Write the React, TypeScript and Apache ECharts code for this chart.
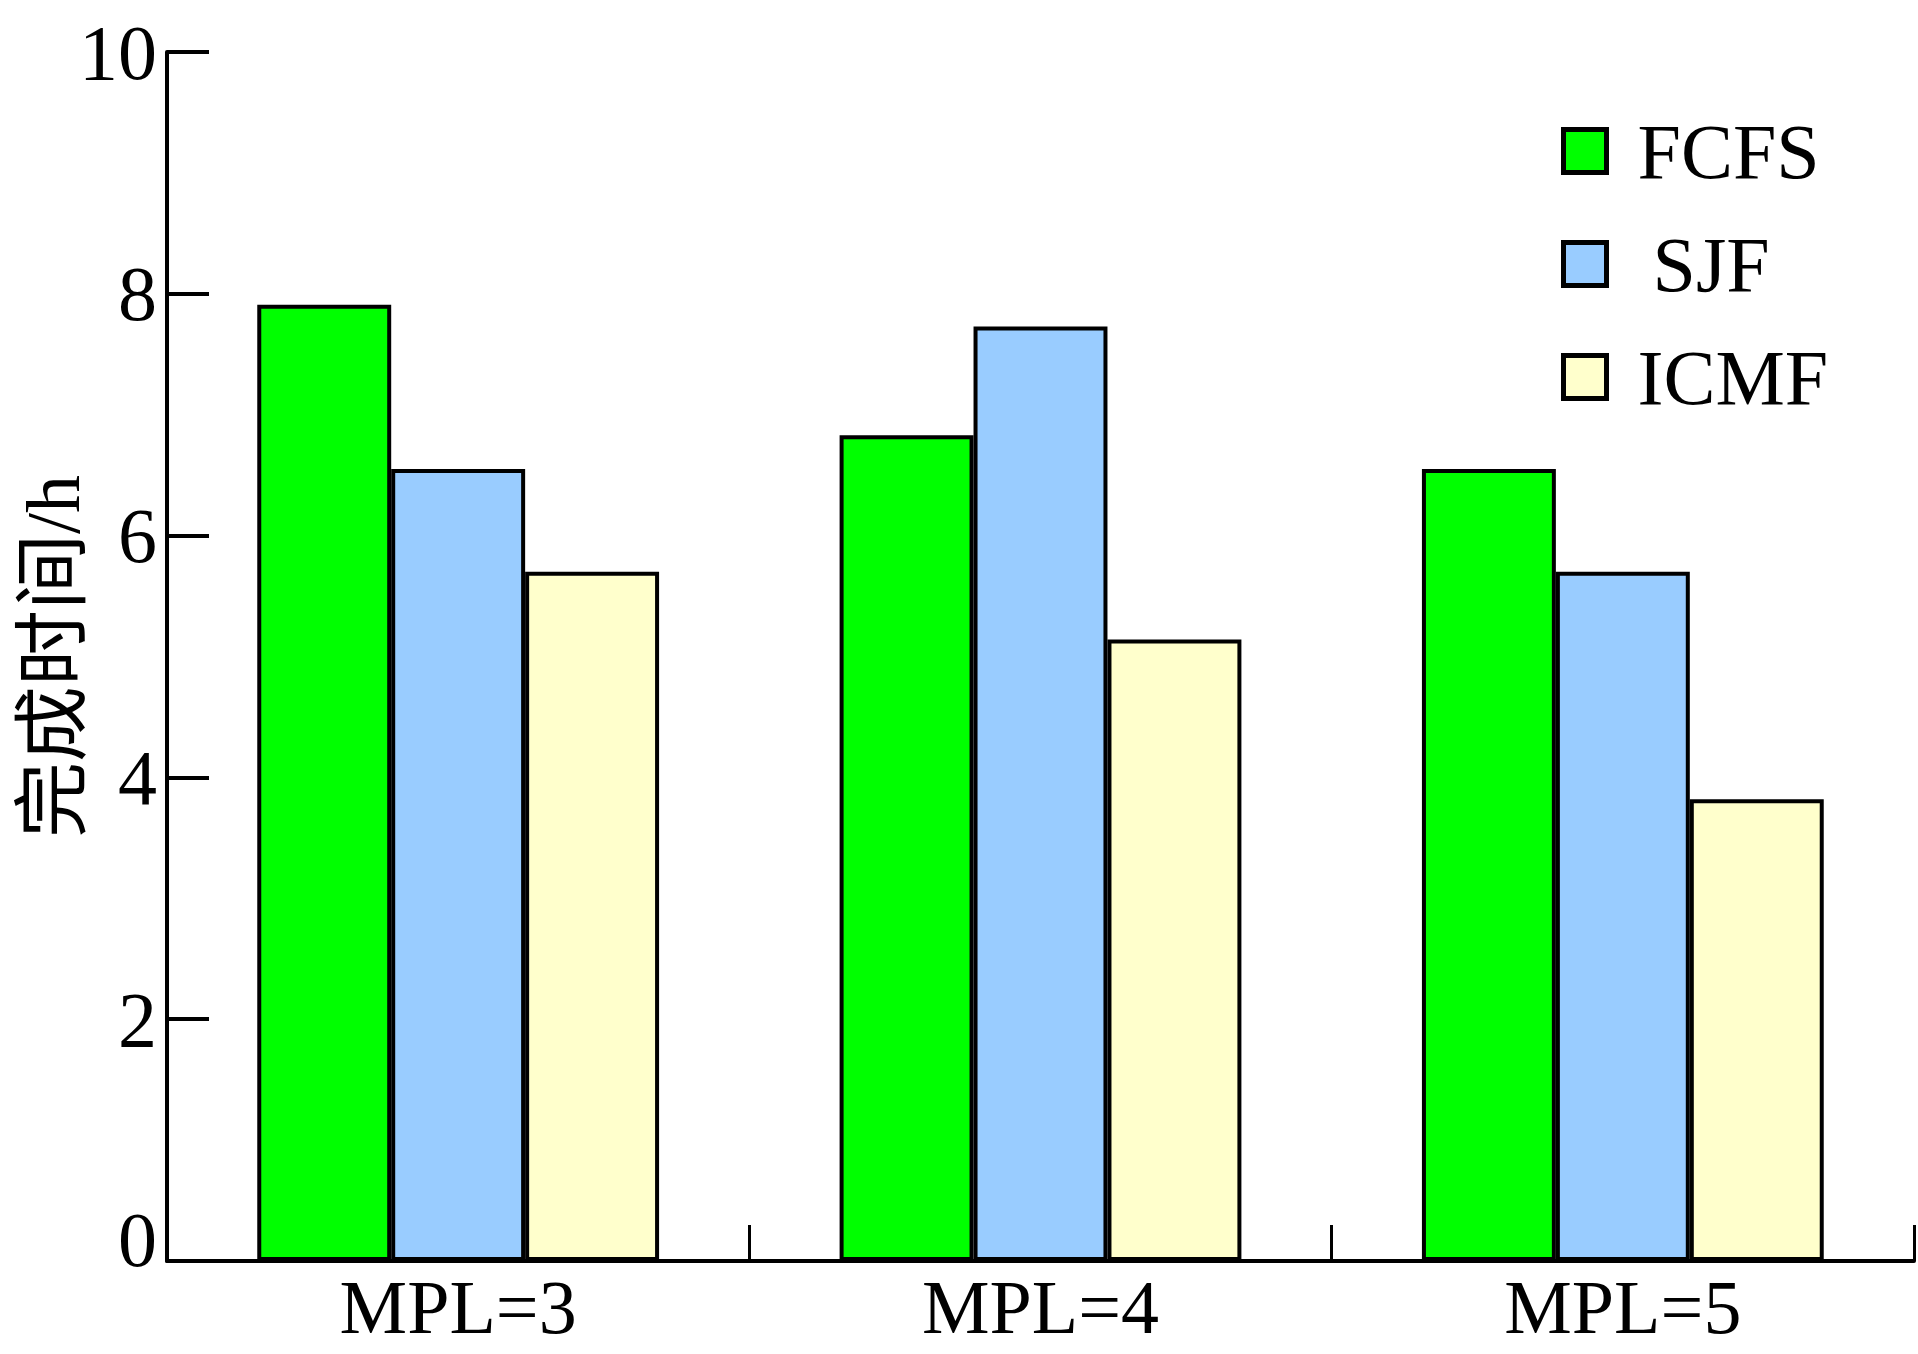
import React, { useEffect, useRef } from "react";
import * as echarts from "echarts";

const categories = ["MPL=3", "MPL=4", "MPL=5"];
const seriesNames = ["FCFS", "SJF", "ICMF"];
const fcfs = [7.91, 6.83, 6.55];
const sjf = [6.55, 7.73, 5.7];
const icmf = [5.7, 5.14, 3.82];
const colors = ["#00FF00", "#99CCFF", "#FFFFCC"];
const yTicks = [0, 2, 4, 6, 8, 10];

const FONT = "'Liberation Serif', 'Times New Roman', 'Noto Sans CJK SC', serif";

export default function App() {
  const ref = useRef<HTMLDivElement>(null);
  useEffect(() => {
    if (!ref.current) return;
    const chart = echarts.init(ref.current, null, { renderer: "svg" });
    const values = [fcfs, sjf, icmf];
    chart.setOption({
      animation: false,
      backgroundColor: "#ffffff",
      grid: { left: 167, right: 4, top: 52, bottom: 93, containLabel: false, outerBoundsMode: "none" },
      legend: {
        orient: "vertical",
        left: 1556,
        top: 107,
        itemWidth: 43,
        itemHeight: 43,
        itemGap: 35,
        icon: "rect",
        data: seriesNames,
        itemStyle: { borderColor: "#000", borderWidth: 5 },
        formatter: (name: string) => (name === "SJF" ? "{s|SJF}" : name),
        textStyle: {
          fontFamily: FONT,
          fontSize: 78,
          color: "#000",
          padding: [0, 0, 0, 26],
          rich: {
            s: { fontFamily: FONT, fontSize: 78, color: "#000", padding: [0, 0, 0, 15] },
          },
        },
      },
      xAxis: {
        type: "category",
        data: categories,
        boundaryGap: true,
        axisLine: { show: true, lineStyle: { color: "#000", width: 4 } },
        axisTick: { show: true, inside: true, length: 36, interval: 0, lineStyle: { color: "#000", width: 3 } },
        axisLabel: { fontFamily: FONT, fontSize: 76, color: "#000", margin: 8 },
        splitLine: { show: false },
      },
      yAxis: {
        type: "value",
        min: yTicks[0],
        max: yTicks[yTicks.length - 1],
        interval: 2,
        name: "完成时间/h",
        nameLocation: "middle",
        nameRotate: 90,
        nameGap: 76,
        nameMoveOverlap: false,
        nameTextStyle: { fontFamily: FONT, fontSize: 76, color: "#000" },
        axisLine: { show: true, lineStyle: { color: "#000", width: 4 } },
        axisTick: { show: true, inside: true, length: 42, lineStyle: { color: "#000", width: 4 } },
        axisLabel: {
          fontFamily: FONT,
          fontSize: 78,
          color: "#000",
          margin: 10,
          formatter: (v: number) => (v === 0 ? "{z|0}" : String(v)),
          rich: { z: { fontFamily: FONT, fontSize: 78, color: "#000", padding: [0, 0, 44, 0] } },
        },
        splitLine: { show: false },
      },
      series: seriesNames.map((name, i) => ({
        name,
        type: "bar",
        data: values[i],
        barWidth: "23%",
        barGap: "0%",
        itemStyle: { color: colors[i], borderColor: "#000", borderWidth: 4 },
      })),
    });
    return () => chart.dispose();
  }, []);
  return (
    <div
      ref={ref}
      style={{ position: "absolute", left: 0, top: 0, width: 1918, height: 1354, background: "#fff" }}
    />
  );
}
